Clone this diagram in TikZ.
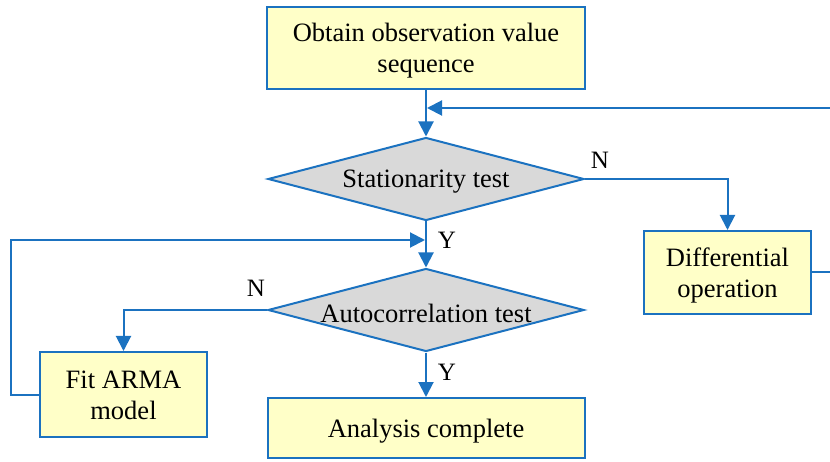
\documentclass[tikz,border=0pt]{standalone}
\usepackage{fontspec}
\setmainfont{Liberation Serif}
\usetikzlibrary{arrows.meta,shapes.geometric}
\definecolor{lineblue}{HTML}{1B72C0}
\definecolor{boxyellow}{HTML}{FFFFC8}
\definecolor{diagray}{HTML}{D9D9D9}
\newcommand\boxtxt[1]{\raisebox{-3pt}[\height][\depth]{\begin{tabular}{@{}c@{}}#1\end{tabular}}}
\newcommand\dtxt[1]{\raisebox{-3pt}[\height][\depth]{#1}}
\tikzset{
  procbox/.style={draw=lineblue, line width=2pt, fill=boxyellow, rectangle, inner sep=0pt,
    font=\fontsize{26.5}{31}\selectfont},
  decbox/.style={draw=lineblue, line width=2pt, fill=diagray, diamond, aspect=3.8, inner sep=0pt,
    minimum width=316pt, minimum height=83pt, font=\fontsize{26.5}{31}\selectfont},
  conn/.style={draw=lineblue, line width=2pt, -{Triangle[length=15pt,width=15pt]}},
  lbl/.style={font=\fontsize{25}{28}\selectfont, inner sep=0pt}
}
\begin{document}
\begin{tikzpicture}[x=1pt,y=-1pt]
\useasboundingbox (0,0) rectangle (830,462);
\node[procbox, minimum width=318pt, minimum height=82pt] (obtain) at (426,48) {\boxtxt{Obtain observation value\\sequence}};
\node[decbox] (stat) at (426,179) {\dtxt{Stationarity test}};
\node[procbox, minimum width=167pt, minimum height=83pt] (diff) at (727.5,272.5) {\boxtxt{Differential\\operation}};
\node[decbox] (auto) at (426,310) {\dtxt{Autocorrelation test}};
\node[procbox, minimum width=167pt, minimum height=85pt] (fit) at (123.5,394.5) {\boxtxt{Fit ARMA\\model}};
\node[procbox, minimum width=317pt, minimum height=60pt] (done) at (426,428) {\dtxt{Analysis complete}};

\coordinate (rloopA) at (836,272.5);
\coordinate (rloopB) at (836,108);
\coordinate (rloopEnd) at (427,108);
\coordinate (lloopA) at (11,394.5);
\coordinate (lloopB) at (11,240);
\coordinate (lloopEnd) at (425,240);

\draw[conn] (obtain.south) -- (stat.north);
\draw[conn] (stat.east) -| (diff.north);
\draw[conn] (diff.east) -- (rloopA) -- (rloopB) -- (rloopEnd);
\draw[conn] (stat.south) -- (auto.north);
\draw[conn] (auto.west) -| (fit.north);
\draw[conn] (fit.west) -- (lloopA) -- (lloopB) -- (lloopEnd);
\draw[conn] (auto.south) -- (done.north);

\node[lbl] (n1) at (600,160) {N};
\node[lbl] (y1) at (447,240) {Y};
\node[lbl] (n2) at (256,288) {N};
\node[lbl] (y2) at (447,372) {Y};
\end{tikzpicture}
\end{document}
